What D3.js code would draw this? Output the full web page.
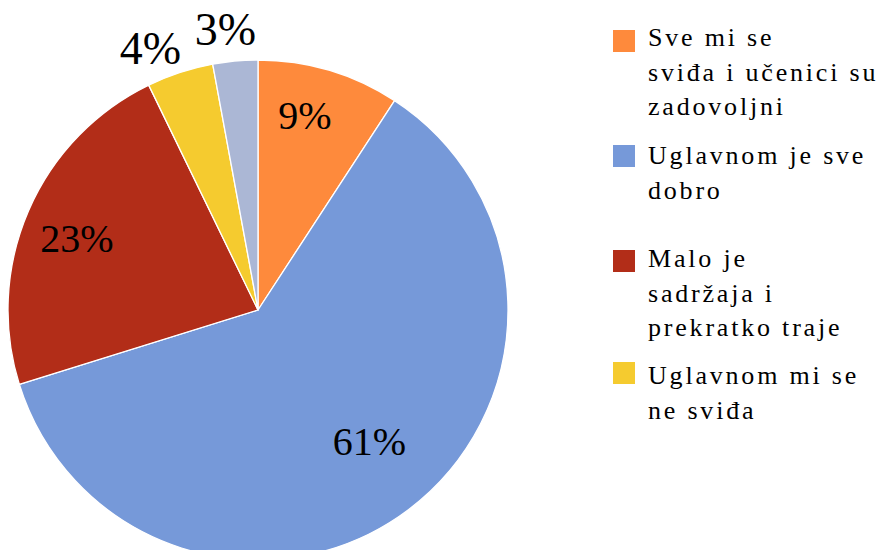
<!DOCTYPE html>
<html><head><meta charset="utf-8">
<script src="https://cdn.jsdelivr.net/npm/d3@7"></script>
<style>
html,body{margin:0;padding:0;background:#fff;}
svg{display:block;}
</style>
</head><body>
<svg id="chart" width="881" height="550"></svg>
<script>
// ---- data ----
const categories = [
  "Sve mi se sviđa i učenici su zadovoljni",
  "Uglavnom je sve dobro",
  "Malo je sadržaja i prekratko traje",
  "Uglavnom mi se ne sviđa",
  "Ostalo"
];
const values = [9.2, 61.0, 22.6, 4.3, 2.9];
const percentLabels = ["9%", "61%", "23%", "4%", "3%"];
const legendLines = [
  ["Sve mi se", "sviđa i učenici su", "zadovoljni"],
  ["Uglavnom je sve", "dobro"],
  ["Malo je", "sadržaja i", "prekratko traje"],
  ["Uglavnom mi se", "ne sviđa"]
];
const colors = ["#FE8A3C", "#7699D9", "#B22D18", "#F5CB2F", "#ABB7D5"];

// ---- layout (not data) ----
const cx = 258, cy = 310, R = 250;
const labelRadiusFactor = [0.80, 0.69, 0.78, 1.13, 1.13];
const labelAngleNudgeDeg = [-3, -3.2, -1.7, -4.2, -1.4];
const labelFontSize = [40, 40, 40, 46, 46];
const legendX = 613, legendTextX = 648, lineH = 34.5;
const legendSquareY = [30, 145, 250, 362];
const legendBaseY = [46, 164, 267, 384];

const svg = d3.select("#chart");
const g = svg.append("g").attr("transform", `translate(${cx},${cy})`);

const pie = d3.pie().sort(null).value(d => d)
  .startAngle(0).endAngle(2 * Math.PI);
const arcs = pie(values);
const arc = d3.arc().innerRadius(0).outerRadius(R);

g.selectAll("path.slice").data(arcs).enter().append("path")
  .attr("class", "slice")
  .attr("d", arc)
  .attr("fill", (d, i) => colors[i])
  .attr("stroke", "#fff")
  .attr("stroke-width", 1.3)
  .attr("stroke-linejoin", "round");

g.selectAll("text.pct").data(arcs).enter().append("text")
  .attr("class", "pct")
  .attr("transform", (d, i) => {
    const a = (d.startAngle + d.endAngle) / 2 + labelAngleNudgeDeg[i] * Math.PI / 180;
    const r = R * labelRadiusFactor[i];
    return `translate(${r * Math.sin(a)},${-r * Math.cos(a)})`;
  })
  .attr("text-anchor", "middle")
  .attr("dy", "0.34em")
  .attr("font-family", "'Liberation Serif', 'Times New Roman', serif")
  .attr("font-size", (d, i) => labelFontSize[i])
  .attr("fill", "#000")
  .text((d, i) => percentLabels[i]);

// ---- legend ----
const leg = svg.append("g");
legendLines.forEach((lines, i) => {
  leg.append("rect")
    .attr("x", legendX).attr("y", legendSquareY[i])
    .attr("width", 22).attr("height", 22)
    .attr("fill", colors[i]);
  const t = leg.append("text")
    .attr("font-family", "'Liberation Serif', 'Times New Roman', serif")
    .attr("font-size", 26)
    .attr("letter-spacing", "2.8px")
    .attr("fill", "#000");
  lines.forEach((ln, j) => {
    t.append("tspan").attr("x", legendTextX).attr("y", legendBaseY[i] + j * lineH).text(ln);
  });
});
</script>
</body></html>
